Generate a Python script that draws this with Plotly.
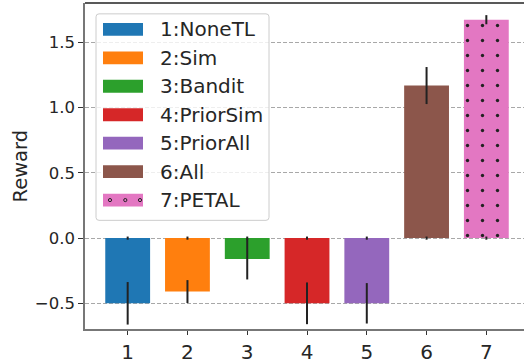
import plotly.graph_objects as go

# ---- data ----
labels = ["1:NoneTL", "2:Sim", "3:Bandit", "4:PriorSim", "5:PriorAll", "6:All", "7:PETAL"]
positions = [1, 2, 3, 4, 5, 6, 7]
means = [-0.50, -0.41, -0.16, -0.50, -0.50, 1.17, 1.675]
errors = [0.163, 0.088, 0.157, 0.16, 0.155, 0.142, 0.035]
base_values = [0, 0, 0, 0, 0, 0, 0]
base_errors = [0.012, 0.012, 0.012, 0.012, 0.012, 0.012, 0.012]
colors = ["#1f77b4", "#ff7f0e", "#2ca02c", "#d62728", "#9467bd", "#8c564b", "#e377c2"]
y_ticks = [-0.5, 0.0, 0.5, 1.0, 1.5]
x_ticks = [1, 2, 3, 4, 5, 6, 7]

W, H = 524, 364
L, R, T, B = 85, 0, 3, 31
PW, PH = W - L - R, H - T - B

def px(xp):
    return (xp - L) / PW

def py(yp):
    return (H - B - yp) / PH

fig = go.Figure()

for i in range(len(labels)):
    pattern = None
    if i == 6:
        pattern = dict(shape=".", fgcolor="#222222", bgcolor=colors[i],
                       size=15, solidity=0.04, fillmode="replace")
    fig.add_trace(go.Bar(
        x=[positions[i]], y=[means[i]], width=0.75, name=labels[i],
        marker=dict(color=colors[i], line=dict(width=0), pattern=pattern),
        error_y=dict(type="data", array=[errors[i]], color="#222222",
                     thickness=2, width=0),
        showlegend=False,
    ))

fig.add_trace(go.Bar(
    x=positions, y=base_values, width=0.75,
    marker=dict(color="rgba(0,0,0,0)", line=dict(width=0)),
    error_y=dict(type="data", array=base_errors, color="#222222",
                 thickness=2, width=0),
    showlegend=False, hoverinfo="skip",
))

shapes = []
annotations = []

# top spine
shapes.append(dict(type="line", xref="paper", yref="paper", x0=0, x1=1, y0=1, y1=1,
                   line=dict(color="#222222", width=1.6), layer="above"))

# manual legend
bx0, bx1, by0, by1 = 96, 269, 14, 223
r = 3
path = (f"M {px(bx0+r)},{py(by0)} L {px(bx1-r)},{py(by0)} "
        f"Q {px(bx1)},{py(by0)} {px(bx1)},{py(by0+r)} "
        f"L {px(bx1)},{py(by1-r)} Q {px(bx1)},{py(by1)} {px(bx1-r)},{py(by1)} "
        f"L {px(bx0+r)},{py(by1)} Q {px(bx0)},{py(by1)} {px(bx0)},{py(by1-r)} "
        f"L {px(bx0)},{py(by0+r)} Q {px(bx0)},{py(by0)} {px(bx0+r)},{py(by0)} Z")
shapes.append(dict(type="path", xref="paper", yref="paper", path=path,
                   fillcolor="rgba(255,255,255,0.8)",
                   line=dict(color="#cccccc", width=1), layer="above"))

row0, step = 29.7, 28.8
for i, lab in enumerate(labels):
    cy = row0 + i * step
    shapes.append(dict(type="rect", xref="paper", yref="paper",
                       x0=px(103), x1=px(143), y0=py(cy + 6.5), y1=py(cy - 6.5),
                       fillcolor=colors[i], line=dict(width=0), layer="above"))
    if i == 6:
        for dx in (110, 125.3, 140):
            shapes.append(dict(type="circle", xref="paper", yref="paper",
                               x0=px(dx - 1.6), x1=px(dx + 1.6),
                               y0=py(cy + 1.6), y1=py(cy - 1.6),
                               line=dict(color="#222222", width=1),
                               fillcolor="rgba(0,0,0,0)", layer="above"))
    annotations.append(dict(text=lab, xref="paper", yref="paper", x=px(158), y=py(cy),
                            xanchor="left", yanchor="middle", showarrow=False,
                            font=dict(family="DejaVu Sans", size=20, color="#262626")))

annotations.append(dict(text="Reward", xref="paper", yref="paper", x=px(20), y=py(168.5),
                        xanchor="center", yanchor="middle", textangle=-90, showarrow=False,
                        font=dict(family="DejaVu Sans", size=19.5, color="#262626")))

fig.update_layout(
    width=W, height=H,
    margin=dict(l=L, r=R, t=T, b=B, pad=0),
    barmode="overlay",
    plot_bgcolor="white", paper_bgcolor="white",
    font=dict(family="DejaVu Sans", color="#262626"),
    shapes=shapes, annotations=annotations,
    showlegend=False,
)
fig.update_xaxes(
    range=[0.286, 7.63], tickmode="array", tickvals=x_ticks,
    ticktext=[str(v) for v in x_ticks],
    showgrid=False, zeroline=False,
    showline=True, linecolor="#777777", linewidth=1.5,
    ticks="outside", ticklen=4, tickwidth=1.2, tickcolor="#333333",
    tickfont=dict(size=20, color="#262626"),
)
fig.update_yaxes(
    range=[-0.697, 1.803], tickmode="array", tickvals=y_ticks, tickformat=".1f",
    showgrid=True, gridcolor="#a8a8a8", griddash="4px,2px", gridwidth=1,
    zeroline=False,
    showline=True, linecolor="#777777", linewidth=1.5,
    ticks="outside", ticklen=5, tickwidth=1.2, tickcolor="#333333",
    tickfont=dict(size=16.5, color="#262626"),
)

fig.write_html("out.html", config={"displayModeBar": False},
               post_script="document.body.style.margin='0';document.body.style.overflow='hidden';")
